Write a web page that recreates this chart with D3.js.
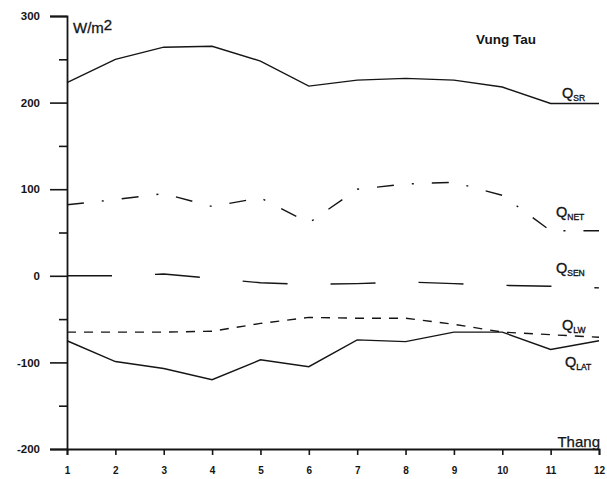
<!DOCTYPE html>
<html>
<head>
<meta charset="utf-8">
<script src="https://cdn.jsdelivr.net/npm/d3@7"></script>
<style>
  body { margin: 0; background: #fff; }
  svg { font-family: "Liberation Sans", Arial, sans-serif; }
</style>
</head>
<body>
<div id="chart"></div>
<script>
// monthly heat flux components, Vung Tau (W/m2)
const months = [1, 2, 3, 4, 5, 6, 7, 8, 9, 10, 11, 12];
const qSR  = [223, 250, 264, 265, 248, 219, 226, 228, 226, 218, 199, 199];
const qNET = [82, 88, 95, 80, 90, 61, 100, 106, 108, 93, 52, 52];
const qSEN = [0, 0, 2, -3, -8, -10, -9, -7, -9, -11, -12, -14];
const qLW  = [-65, -65, -65, -64, -55, -48, -49, -49, -56, -65, -68, -71];
const qLAT = [-75, -99, -107, -120, -97, -105, -74, -76, -65, -65, -85, -75];
const yMajor = [-200, -100, 0, 100, 200, 300];
const yMinor = [-150, -50, 50, 150, 250];

const width = 607, height = 479;
const svg = d3.select('#chart').append('svg')
  .attr('width', width)
  .attr('height', height);

const x = d3.scaleLinear().domain([1, 12]).range([67, 599]);
const y = d3.scaleLinear().domain([-200, 300]).range([449, 16]);
const ink = '#151515';

// ----------------------------------------------------
// axes
// ----------------------------------------------------
const gy = svg.append('g')
  .attr('transform', `translate(${x(1)},0)`)
  .call(d3.axisLeft(y).tickValues(yMajor).tickSize(17).tickPadding(10)
    .tickFormat(d => String(d)));
gy.selectAll('text')
  .attr('font-size', 11.5).attr('font-weight', 'bold').attr('fill', ink);

svg.append('g')
  .attr('transform', `translate(${x(1)},0)`)
  .call(d3.axisLeft(y).tickValues(yMinor).tickSize(8).tickFormat(''))
  .select('.domain').remove();

const gx = svg.append('g')
  .attr('transform', `translate(0,${y(-200)})`)
  .call(d3.axisBottom(x).tickValues(months).tickSize(6).tickPadding(12)
    .tickFormat(d => String(d)));
gx.selectAll('text')
  .attr('font-size', 10).attr('font-weight', 'bold').attr('fill', ink);

svg.selectAll('.domain').attr('stroke', ink).attr('stroke-width', 1.8);
svg.selectAll('.tick line').attr('stroke', ink).attr('stroke-width', 1.6);

// ----------------------------------------------------
// series
// ----------------------------------------------------
const line = d3.line().x((d, i) => x(months[i])).y(d => y(d));

const series = [
  {vals: qSR,  dash: null},
  {vals: qNET, dash: '17,18,2,18'},
  {vals: qSEN, dash: '45,43'},
  {vals: qLW,  dash: '9,8'},
  {vals: qLAT, dash: null}
];

svg.append('g')
  .attr('fill', 'none')
  .attr('stroke', ink)
  .attr('stroke-width', 1.4)
.selectAll('path')
  .data(series)
  .enter().append('path')
    .attr('d', d => line(d.vals))
    .attr('stroke-dasharray', d => d.dash);

// ----------------------------------------------------
// labels
// ----------------------------------------------------
const labels = [
  {sub: 'SR',  x: 562, y: 98},
  {sub: 'NET', x: 556, y: 217},
  {sub: 'SEN', x: 556, y: 273},
  {sub: 'LW',  x: 562, y: 330},
  {sub: 'LAT', x: 565, y: 367}
];

const lab = svg.append('g')
  .attr('fill', ink)
  .attr('stroke', ink)
  .attr('stroke-width', 0.35);
labels.forEach(l => {
  const t = lab.append('text')
    .attr('x', l.x).attr('y', l.y)
    .attr('font-size', 14.5);
  t.append('tspan').text('Q');
  t.append('tspan').attr('font-size', 8.5).attr('dy', 3).text(l.sub);
});

svg.append('text')
  .attr('x', 73).attr('y', 33)
  .attr('font-size', 15).attr('fill', ink)
  .attr('stroke', ink).attr('stroke-width', 0.3)
  .call(t => {
    t.append('tspan').text('W/m');
    t.append('tspan').attr('dy', -3).text('2');
  });

svg.append('text')
  .attr('x', 476).attr('y', 44)
  .attr('font-size', 13.5).attr('font-weight', 'bold').attr('fill', ink)
  .text('Vung Tau');

svg.append('text')
  .attr('x', 600).attr('y', 447)
  .attr('text-anchor', 'end')
  .attr('font-size', 15).attr('fill', ink)
  .attr('stroke', ink).attr('stroke-width', 0.25)
  .text('Thang');
</script>
</body>
</html>
